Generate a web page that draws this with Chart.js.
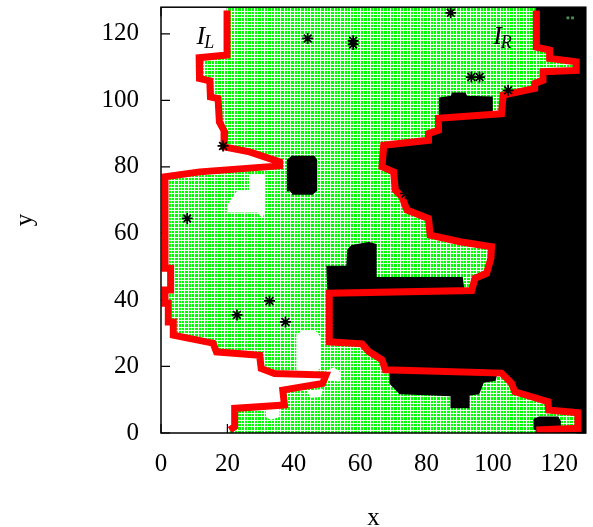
<!DOCTYPE html>
<html><head><meta charset="utf-8">
<script src="https://cdn.jsdelivr.net/npm/chart.js@4/dist/chart.umd.min.js"></script>
<style>html,body{margin:0;padding:0;background:#fff}canvas{display:block}</style>
</head><body>
<canvas id="c" width="593" height="527"></canvas>
<script>
// ---- data ----
const GRID_N = 128;
const X_TICKS = [0,20,40,60,80,100,120];
const Y_TICKS = [0,20,40,60,80,100,120];

// left interface I_L (top -> bottom)
const IL_X = [19.9,19.9,11.5,11.6,14.7,14.9,17.2,17.6,19.2,19.0,26.7,35.7,35.7,11.7,1.2,1.2,2.9,2.9,1.2,1.2,2.2,2.2,3.7,3.7,15.7,16.7,29.7,30.2,34.2,49.7,48.7,36.7,37.2,22.2,22.2,20.7];
const IL_Y = [127,113.6,112.8,106.6,105.9,101,100.5,93.5,90.5,86,84.5,81.5,80.3,78.5,77,49.5,49.5,43,43,39,39,33.4,33.4,29.4,27,24.4,23.4,19.4,17.9,17.4,14.9,12.9,8.4,7.4,1.9,0.9];

// right interface I_R (top -> bottom)
const IR_X = [113.1,113.1,117.1,117.1,125.1,125.1,115.1,115.1,112.6,112.6,103.1,102.6,83.6,83.6,80.6,80.6,67.1,66.6,70.1,70.6,72.6,74.1,80.6,81.1,90.1,99.6,99.4,98.1,94.6,93.6,50.7,50.7,60.6,62.6,66.6,67.6,102.6,105.6,106.6,116.6,116.8,125.6,125.6,113.1];
const IR_Y = [127,116,115.1,112.6,111.6,109,108.6,106,105.1,103.6,101.6,96,94.6,91,90,88,86.5,80,78.5,73,71,67,64.5,59.5,57.5,56,52.5,48,46.5,42.8,42,27.4,26.8,24.5,22,19,18,15,12.4,9.4,6.9,6.1,1.4,0.9];

// black clusters inside the green phase
const BLOB_A = [[38.5,73],[38.3,82],[39.5,83],[46,83],[46.7,82],[46.7,73],[45.5,72],[39.5,72]];
const BLOB_B = [[84.1,95],[84.1,100.5],[87.5,101],[88,102],[91.5,102],[92,101],[99.6,100.8],[99.6,95]];
const BLOB_C = [[50.5,42],[50.2,49.9],[56.2,50],[56.5,55],[57.6,56.2],[62.6,57],[64.6,56.5],[64.6,46.5],[90.6,46.5],[91,43.5],[91,42.5]];
const BLOB_D = [[69.2,18.5],[69.2,15],[72,12],[87.6,11.4],[87.6,7.8],[92.6,7.8],[92.6,11.6],[95.6,12],[97,15.5],[100.5,16],[101,18]];
const BLOB_E = [[112.6,1],[112.6,4],[114,4.6],[119.5,4.6],[120.1,3.5],[120.1,1]];

// white (empty) patches inside the green phase
const HOLE_A = [[26.5,77.5],[31.2,77.5],[31.2,67],[30.5,65],[29,66.5],[20,66.5],[20.5,69],[23,72.5],[26.5,72.5]];
const HOLE_B = [[41,19],[41,29.5],[42.5,30.4],[46.5,30.4],[47.7,29],[47.7,19.5],[46.5,18.5],[42,18.5]];
const HOLE_C = [[50,16],[50,18.5],[52,19.5],[54,18],[53.5,15.5]];
const HOLE_D = [[44,12.5],[48.5,13],[48,11],[45,10.8]];
const HOLE_E = [[31.5,7],[35.5,7.5],[35.5,5],[33,4.2],[31.7,5]];

// isolated black sites (asterisks)
const STAR_X = [44.2,57.9,57.9,18.7,7.9,87.3,93.5,96,104.6,22.9,32.7,37.5,73.7];
const STAR_Y = [118.6,117.9,116.8,86.3,64.5,126.3,107,107,103,35.5,39.7,33.4,72];

// isolated green site inside the black phase
const SPOT_X = [122.6,124];
const SPOT_Y = [124.8,124.8];

const CURVE_NAMES = ['I','I'];
const CURVE_SUBS = ['L','R'];

// ---- build datasets ----
const zip = (xs, ys) => xs.map((x,i)=>({x, y: ys[i]}));
const pts = arr => arr.map(p=>({x:p[0], y:p[1]}));
const IL = zip(IL_X, IL_Y);
const IR = zip(IR_X, IR_Y);
const greenPoly = [{x:IL_X[0],y:GRID_N}].concat(IL, [{x:IL_X[IL_X.length-1],y:0},{x:GRID_N,y:0},{x:GRID_N,y:GRID_N}]);
const blackPoly = [{x:IR_X[0],y:GRID_N}].concat(IR, [{x:IR_X[IR_X.length-1],y:0},{x:GRID_N,y:0},{x:GRID_N,y:GRID_N}]);

function poly(data, color, order, bw, label){
  return {type:'line', label, data, order, fill:'shape', backgroundColor:color, borderColor:color,
    borderWidth:bw, pointRadius:0, tension:0, showLine:true};
}
const datasets = [
  poly(greenPoly, '#00ff00', 10, 0, 'green'),
  poly(blackPoly, '#000000', 9, 1, 'black'),
  ...[HOLE_A,HOLE_B,HOLE_C,HOLE_D,HOLE_E].map(h=>poly(pts(h), '#ffffff', 8, 1.5, 'hole')),
  ...[BLOB_A,BLOB_B,BLOB_C,BLOB_D,BLOB_E].map(b=>poly(pts(b), '#000000', 7, 2.5, 'blob')),
  {type:'line', label:'spot', data:zip(SPOT_X,SPOT_Y), order:6, showLine:false, pointStyle:'rect',
    pointRadius:2, backgroundColor:'#4e8e4e', borderColor:'#4e8e4e', borderWidth:0},
  {type:'line', label:'IL', data:IL, order:2, fill:false, borderColor:'#ff0000', borderWidth:7,
    borderJoinStyle:'miter', borderCapStyle:'butt', pointRadius:0, tension:0},
  {type:'line', label:'IR', data:IR, order:2, fill:false, borderColor:'#ff0000', borderWidth:7,
    borderJoinStyle:'miter', borderCapStyle:'butt', pointRadius:0, tension:0},
  {type:'line', label:'stars', data:zip(STAR_X,STAR_Y), order:1, showLine:false, pointStyle:'star',
    pointRadius:5.5, borderColor:'#000', borderWidth:1.7, backgroundColor:'#000'}
];

const FONT = "'Liberation Serif', 'DejaVu Serif', serif";

const cellGrid = {
  id:'cellGrid',
  afterDatasetDraw(chart, args){
    const ds = chart.data.datasets[args.index];
    if (ds.label !== 'green') return;
    const ctx = chart.ctx, xs = chart.scales.x, ys = chart.scales.y, p = args.meta.data;
    ctx.save();
    ctx.beginPath();
    p.forEach((e,i)=> i ? ctx.lineTo(e.x,e.y) : ctx.moveTo(e.x,e.y));
    ctx.closePath();
    ctx.clip();
    ctx.strokeStyle = 'rgba(255,255,255,0.9)';
    ctx.lineWidth = 1;
    ctx.beginPath();
    for (let i=0;i<=GRID_N;i++){
      const px = Math.round(xs.getPixelForValue(i))+0.5;
      ctx.moveTo(px, ys.top); ctx.lineTo(px, ys.bottom);
      const py = Math.round(ys.getPixelForValue(i))+0.5;
      ctx.moveTo(xs.left, py); ctx.lineTo(xs.right, py);
    }
    ctx.stroke();
    ctx.restore();
  }
};

const innerTicks = {
  id:'innerTicks',
  beforeDatasetsDraw(chart){
    const ctx = chart.ctx, xs = chart.scales.x, ys = chart.scales.y, a = chart.chartArea, L = 9;
    ctx.save(); ctx.strokeStyle='#000'; ctx.lineWidth=1.2; ctx.beginPath();
    X_TICKS.forEach(v=>{ const px = xs.getPixelForValue(v);
      ctx.moveTo(px,a.bottom); ctx.lineTo(px,a.bottom-L); ctx.moveTo(px,a.top); ctx.lineTo(px,a.top+L); });
    Y_TICKS.forEach(v=>{ const py = ys.getPixelForValue(v);
      ctx.moveTo(a.left,py); ctx.lineTo(a.left+L,py); ctx.moveTo(a.right,py); ctx.lineTo(a.right-L,py); });
    ctx.stroke(); ctx.restore();
  }
};

const frameAndLabels = {
  id:'frameAndLabels',
  afterDatasetsDraw(chart){
    const ctx = chart.ctx, xs = chart.scales.x, ys = chart.scales.y, a = chart.chartArea;
    ctx.save();
    ctx.strokeStyle='#000'; ctx.lineWidth=1.5;
    ctx.strokeRect(a.left, a.top, a.right-a.left, a.bottom-a.top);
    const anchors = [[10.7,116.9],[100.1,116.9]];
    CURVE_NAMES.forEach((t,i)=>{
      const x = xs.getPixelForValue(anchors[i][0]), y = ys.getPixelForValue(anchors[i][1]);
      ctx.fillStyle='#000'; ctx.textBaseline='alphabetic'; ctx.textAlign='left';
      ctx.font = "italic 26px " + FONT;
      ctx.fillText(t, x, y);
      const w = ctx.measureText(t).width;
      ctx.font = "italic 18px " + FONT;
      ctx.fillText(CURVE_SUBS[i], x + w - 1, y + 4);
    });
    ctx.restore();
  }
};

new Chart(document.getElementById('c'), {
  type:'line',
  data:{datasets},
  options:{
    responsive:false, animation:false, devicePixelRatio:1,
    layout:{padding:{left:0,right:5,top:7,bottom:0}},
    plugins:{legend:{display:false}, tooltip:{enabled:false}},
    scales:{
      x:{type:'linear', min:0, max:GRID_N,
        afterBuildTicks:s=>{s.ticks = X_TICKS.map(v=>({value:v}));},
        afterFit:s=>{s.height = 94; s.paddingLeft = 0; s.paddingRight = 0;},
        grid:{display:false, drawTicks:false}, border:{display:false},
        ticks:{font:{family:FONT,size:25}, color:'#000', padding:16, maxRotation:0, autoSkip:false},
        title:{display:true, text:'x', font:{family:FONT,size:25}, color:'#000', padding:{top:0,bottom:-6}}},
      y:{type:'linear', min:0, max:GRID_N,
        afterBuildTicks:s=>{s.ticks = Y_TICKS.map(v=>({value:v}));},
        afterFit:s=>{s.width = 161; s.paddingTop = 0; s.paddingBottom = 0;},
        grid:{display:false, drawTicks:false}, border:{display:false},
        ticks:{font:{family:FONT,size:25}, color:'#000', padding:22, autoSkip:false},
        title:{display:true, text:'y', font:{family:FONT,size:25}, color:'#000', padding:{top:10,bottom:0}}}
    }
  },
  plugins:[cellGrid, innerTicks, frameAndLabels]
});
</script>
</body></html>
